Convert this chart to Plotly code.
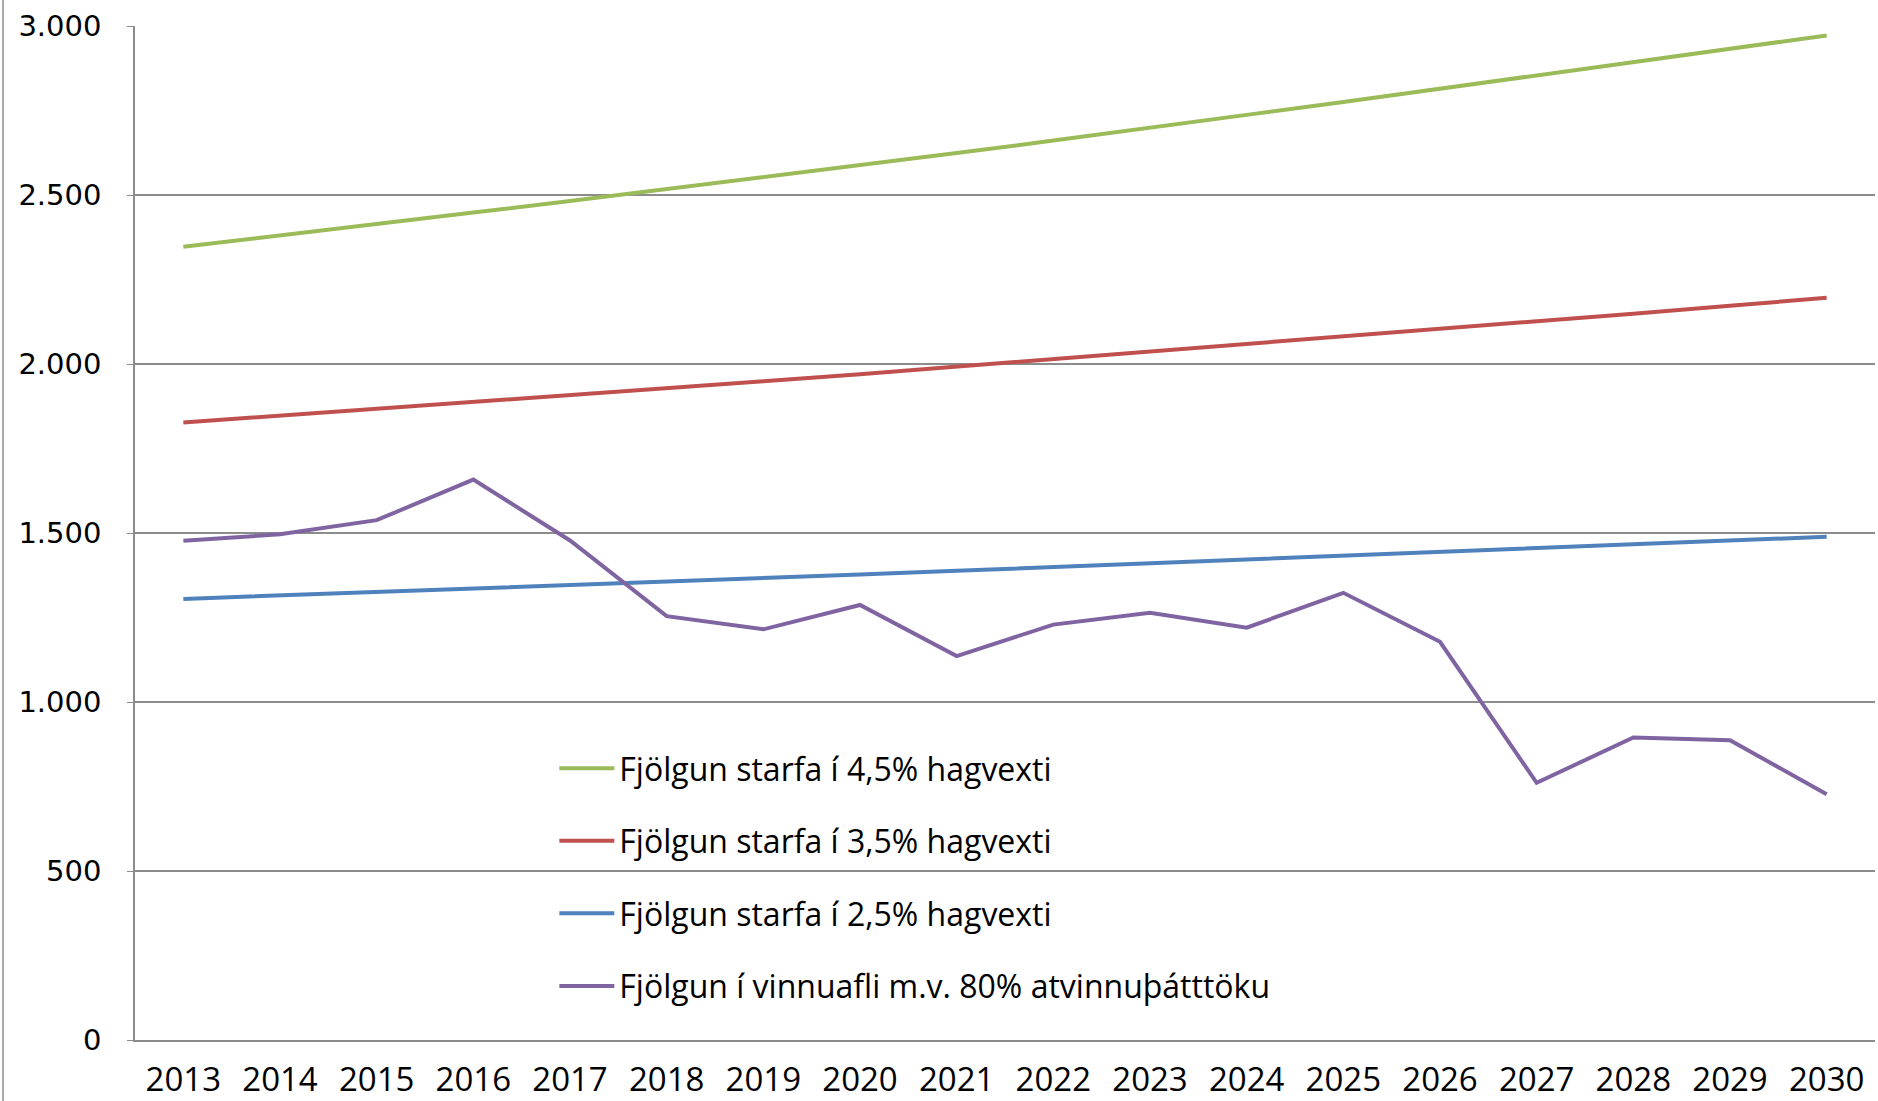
import plotly.graph_objects as go

years = [str(y) for y in range(2013, 2031)]

green_45 = [2347, 2380, 2414, 2448, 2482, 2517, 2552, 2588, 2624, 2661, 2698, 2737, 2775, 2814, 2853, 2892, 2932, 2972]
red_35 = [1827, 1847, 1867, 1887, 1907, 1928, 1949, 1970, 1992, 2014, 2036, 2058, 2080, 2103, 2126, 2149, 2172, 2196]
blue_25 = [1305, 1315, 1325, 1336, 1346, 1356, 1367, 1377, 1388, 1399, 1410, 1420, 1431, 1442, 1454, 1465, 1477, 1489]
purple_labor = [1477, 1496, 1538, 1658, 1478, 1254, 1215, 1287, 1136, 1229, 1264, 1220, 1323, 1178, 761, 895, 887, 727]

names = [
    "Fjölgun starfa í 4,5% hagvexti",
    "Fjölgun starfa í 3,5% hagvexti",
    "Fjölgun starfa í 2,5% hagvexti",
    "Fjölgun í vinnuafli m.v. 80% atvinnuþátttöku",
]
series = [green_45, red_35, blue_25, purple_labor]
colors = ["#9BBB59", "#C0504D", "#4F81BD", "#8064A2"]

fig = go.Figure()
for i, (nm, vals, col) in enumerate(zip(names, series, colors)):
    fig.add_trace(go.Scatter(
        x=years, y=vals, mode="lines", name=nm,
        line=dict(color=col, width=4),
        legendgroup="g%d" % i,
    ))

fig.update_layout(
    width=1878, height=1101,
    margin=dict(l=135, r=3, t=26, b=61),
    paper_bgcolor="white", plot_bgcolor="white",
    separators=",.",
    showlegend=True,
    legend=dict(
        x=0.2410, y=0.295, xanchor="left", yanchor="top",
        font=dict(family="Open Sans", size=32, color="#000000"),
        tracegroupgap=28, bgcolor="rgba(0,0,0,0)",
        itemwidth=55,
    ),
    xaxis=dict(
        type="category",
        showgrid=False, automargin=False,
        showline=True, linecolor="#8c8c8c", linewidth=1.5,
        ticks="", tickfont=dict(family="Open Sans", size=33, color="#000000"),
        ticklabelstandoff=10,
        range=[-0.5, 17.5],
    ),
    yaxis=dict(
        range=[0, 3000], dtick=500, tickformat=",d", automargin=False,
        showgrid=True, gridcolor="#8c8c8c", gridwidth=1.5,
        showline=True, linecolor="#8c8c8c", linewidth=1.5,
        ticks="outside", ticklen=6, tickcolor="#8c8c8c",
        tickfont=dict(family="DejaVu Sans", size=29, color="#000000"),
        ticklabelstandoff=20,
        zeroline=False,
    ),
)

fig.add_shape(type="line", xref="paper", yref="paper",
              x0=-132/1740, x1=-132/1740, y0=-61/1014, y1=1 + 26/1014,
              line=dict(color="#8c8c8c", width=1.5))

fig.write_html(
    "out.html",
    config={"displayModeBar": False},
    post_script="document.body.style.margin='0';document.body.style.overflow='hidden';",
)
